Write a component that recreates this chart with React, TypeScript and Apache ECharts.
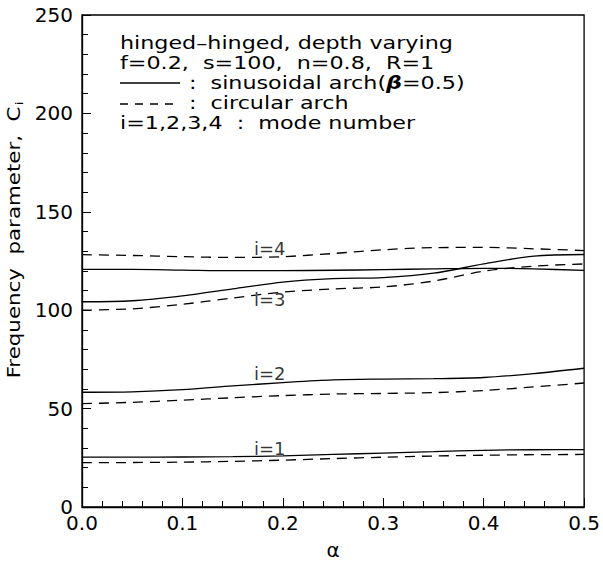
import React, { useEffect, useRef } from "react";
import * as echarts from "echarts";

const alpha = [0, 0.05, 0.1, 0.15, 0.2, 0.25, 0.3, 0.35, 0.4, 0.45, 0.5];

const sinMode1 = [25.3, 25.3, 25.4, 25.6, 26.0, 26.7, 27.4, 28.1, 28.8, 29.1, 29.2];
const cirMode1 = [22.5, 22.6, 22.8, 23.2, 23.8, 24.6, 25.3, 25.9, 26.3, 26.6, 26.7];
const sinMode2 = [58.3, 58.5, 59.6, 61.5, 63.2, 64.6, 65.0, 65.2, 65.8, 67.8, 70.5];
const cirMode2 = [52.5, 53.2, 54.3, 55.5, 56.6, 57.4, 57.7, 58.1, 59.2, 61.0, 63.0];
const sinMode3 = [104.3, 104.8, 107.3, 110.8, 114.3, 116.0, 116.6, 118.8, 123.5, 127.5, 128.3];
const cirMode3 = [100.0, 100.7, 103.0, 106.2, 109.2, 110.8, 111.8, 114.8, 119.8, 122.4, 123.5];
const sinMode4 = [120.7, 120.7, 120.4, 120.1, 120.1, 120.3, 120.6, 121.0, 121.3, 121.0, 120.2];
const cirMode4 = [128.2, 127.8, 127.2, 126.8, 127.2, 128.8, 130.7, 131.8, 131.9, 131.2, 130.3];

const modeLabels: [number, number, string][] = [
  [0.187, 131.5, "i=4"],
  [0.187, 105.5, "i=3"],
  [0.187, 68, "i=2"],
  [0.187, 29.5, "i=1"],
];

const xTicks = { min: 0, max: 0.5, interval: 0.1 };
const yTicks = { min: 0, max: 250, interval: 50 };

const legendLines = [
  "hinged\u2013hinged, depth varying",
  "f=0.2,  s=100,  n=0.8,  R=1",
];
const FONT = "'DejaVu Sans', sans-serif";

export default function App() {
  const ref = useRef<HTMLDivElement>(null);
  useEffect(() => {
    if (!ref.current) return;
    const chart = echarts.init(ref.current, undefined, { renderer: "svg" });
    const mk = (data: number[], dashed: boolean) => ({
      type: "line",
      data: alpha.map((a, i) => [a, data[i]]),
      showSymbol: false,
      smooth: 0.3,
      silent: true,
      lineStyle: {
        color: "#000",
        width: 1.3,
        type: dashed ? [10, 7] : "solid",
      },
    });
    const txt = (x: number, y: number, text: string, rich?: any) => ({
      type: "text",
      x,
      y,
      scaleX: 1.27,
      style: {
        text,
        fontSize: 17.5,
        fontFamily: FONT,
        fill: "#000",
        verticalAlign: "middle",
        align: "left",
        rich,
      },
    });
    chart.setOption({
      animation: false,
      grid: {
        left: 82,
        right: 11,
        top: 15,
        bottom: 50,
        show: true,
        borderColor: "#000",
        borderWidth: 1.3,
        backgroundColor: "transparent",
      },
      xAxis: {
        type: "value",
        ...xTicks,
        name: "\u03b1",
        nameLocation: "middle",
        nameGap: 33,
        nameTextStyle: { fontSize: 20, fontFamily: FONT, color: "#000" },
        axisLine: { show: true, lineStyle: { color: "#000", width: 1.3 } },
        axisTick: { show: true, inside: true, length: 9, lineStyle: { color: "#000" } },
        minorTick: { show: true, splitNumber: 5, length: 6, lineStyle: { color: "#000" } },
        splitLine: { show: false },
        axisLabel: {
          formatter: (v: number) => v.toFixed(1),
          fontSize: 20,
          fontFamily: FONT,
          color: "#000",
          margin: 6,
        },
      },
      yAxis: {
        type: "value",
        ...yTicks,
        axisLine: { show: true, lineStyle: { color: "#000", width: 1.3 } },
        axisTick: { show: true, inside: true, length: 9, lineStyle: { color: "#000" } },
        minorTick: { show: true, splitNumber: 5, length: 6, lineStyle: { color: "#000" } },
        splitLine: { show: false },
        axisLabel: {
          fontSize: 20,
          fontFamily: FONT,
          color: "#000",
          margin: 9,
        },
      },
      series: [
        mk(sinMode1, false),
        mk(cirMode1, true),
        mk(sinMode2, false),
        mk(cirMode2, true),
        mk(sinMode3, false),
        mk(cirMode3, true),
        mk(sinMode4, false),
        mk(cirMode4, true),
        {
          type: "scatter",
          data: modeLabels,
          symbolSize: 0,
          silent: true,
          label: {
            show: true,
            position: "inside",
            formatter: (p: any) => p.data[2],
            fontSize: 18,
            fontFamily: FONT,
            color: "#000",
          },
        },
      ],
      graphic: [
        txt(120, 43, legendLines[0]),
        txt(120, 63, legendLines[1]),
        {
          type: "line",
          shape: { x1: 120, y1: 83, x2: 180, y2: 83 },
          style: { stroke: "#000", lineWidth: 1.3 },
        },
        txt(189, 83, "{a|:  sinusoidal arch(}{b|\u03b2}{a|=0.5)}", {
          a: { fontSize: 17.5, fontFamily: FONT, fill: "#000" },
          b: { fontSize: 17.5, fontFamily: FONT, fill: "#000", fontWeight: "bold", fontStyle: "italic" },
        }),
        {
          type: "line",
          shape: { x1: 120, y1: 104, x2: 180, y2: 104 },
          style: { stroke: "#000", lineWidth: 1.3, lineDash: [8, 7] },
        },
        txt(189, 103, ":  circular arch"),
        txt(120, 123, "i=1,2,3,4  :  mode number"),
        {
          type: "text",
          x: 14,
          y: 240,
          rotation: Math.PI / 2,
          scaleX: 1.22,
          style: {
            text: "{a|Frequency  parameter,  C}{s|i}",
            align: "center",
            verticalAlign: "middle",
            fill: "#000",
            rich: {
              a: { fontSize: 17.5, fontFamily: FONT, fill: "#000" },
              s: { fontSize: 11, fontFamily: FONT, fill: "#000", padding: [10, 0, 0, 1] },
            },
          },
        },
      ],
    });
    return () => chart.dispose();
  }, []);
  return (
    <div
      ref={ref}
      style={{ position: "fixed", left: 0, top: 0, width: 603, height: 565, background: "#fff" }}
    />
  );
}
